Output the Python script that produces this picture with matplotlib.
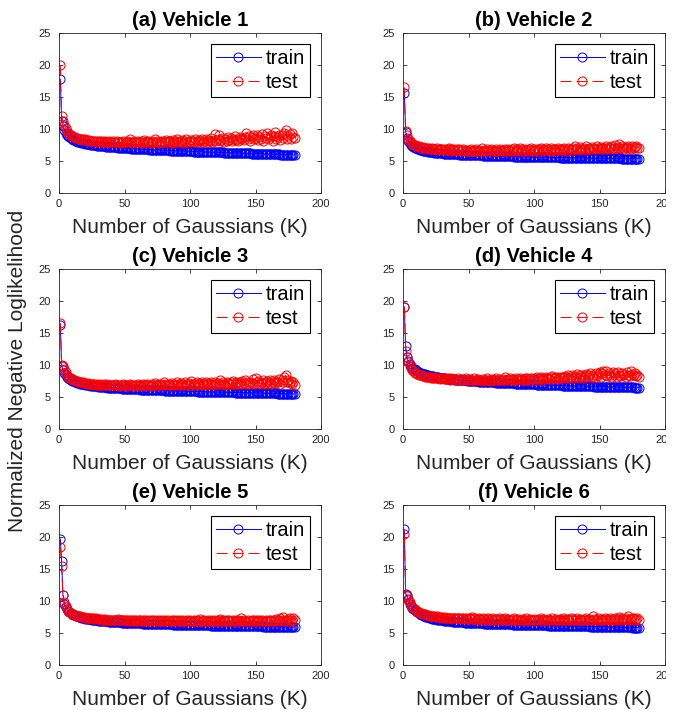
import matplotlib
matplotlib.use("Agg")
import matplotlib.pyplot as plt
from matplotlib.transforms import Bbox, TransformedBbox
import numpy as np

plt.rcParams['font.family'] = ['Liberation Sans', 'DejaVu Sans']
plt.rcParams['lines.scale_dashes'] = False

K = np.arange(1, 181)

titles = ["(a) Vehicle 1", "(b) Vehicle 2", "(c) Vehicle 3",
          "(d) Vehicle 4", "(e) Vehicle 5", "(f) Vehicle 6"]
series_labels = ["train", "test"]
x_ticks = [0, 50, 100, 150, 200]
y_ticks = [0, 5, 10, 15, 20, 25]
x_label = "Number of Gaussians (K)"
y_label = "Normalized Negative Loglikelihood"

train_v1 = [
    17.8, 11.2, 10.4, 9.8, 9.4, 9.1, 8.9, 8.7, 8.55, 8.42,
    8.31, 8.21, 8.12, 8.04, 7.97, 7.91, 7.85, 7.80, 7.75, 7.71,
    7.67, 7.63, 7.59, 7.56, 7.53, 7.50, 7.47, 7.44, 7.42, 7.39,
    7.37, 7.35, 7.32, 7.30, 7.28, 7.26, 7.24, 7.22, 7.20, 7.18,
    7.16, 7.15, 7.13, 7.11, 7.10, 7.08, 7.06, 7.05, 7.03, 7.02,
    7.00, 6.99, 6.98, 6.96, 6.95, 6.94, 6.92, 6.91, 6.90, 6.89,
    6.88, 6.87, 6.85, 6.84, 6.83, 6.82, 6.81, 6.80, 6.79, 6.78,
    6.77, 6.76, 6.75, 6.74, 6.73, 6.72, 6.71, 6.70, 6.69, 6.68,
    6.67, 6.66, 6.66, 6.65, 6.64, 6.63, 6.62, 6.61, 6.61, 6.60,
    6.59, 6.58, 6.57, 6.57, 6.56, 6.55, 6.54, 6.54, 6.53, 6.52,
    6.50, 6.49, 6.48, 6.48, 6.47, 6.46, 6.45, 6.45, 6.44, 6.43,
    6.43, 6.42, 6.41, 6.40, 6.40, 6.39, 6.38, 6.38, 6.37, 6.36,
    6.35, 6.35, 6.34, 6.33, 6.33, 6.32, 6.31, 6.30, 6.30, 6.29,
    6.28, 6.28, 6.27, 6.26, 6.25, 6.25, 6.24, 6.23, 6.23, 6.22,
    6.21, 6.20, 6.20, 6.19, 6.18, 6.18, 6.17, 6.16, 6.15, 6.15,
    6.14, 6.13, 6.13, 6.12, 6.11, 6.10, 6.10, 6.09, 6.08, 6.08,
    6.07, 6.06, 6.05, 6.05, 6.04, 6.03, 6.03, 6.02, 6.01, 6.00,
    6.00, 5.99, 5.99, 5.98, 5.98, 5.97, 5.97, 5.96, 5.96, 5.95,
]
test_v1 = [
    20.0, 12.0, 11.2, 10.6, 10.1, 9.7, 9.4, 9.2, 9.0, 8.9,
    8.8, 8.7, 8.6, 8.6, 8.5, 8.5, 8.4, 8.4, 8.3, 8.4,
    8.3, 8.2, 8.3, 8.2, 8.1, 8.2, 8.1, 8.2, 8.0, 8.1,
    8.1, 8.0, 8.2, 8.0, 8.1, 7.9, 8.0, 8.1, 7.9, 8.0,
    8.2, 7.9, 8.0, 8.1, 7.9, 8.0, 7.8, 8.0, 8.1, 7.9,
    8.0, 8.1, 7.9, 8.5, 8.0, 7.8, 8.1, 7.9, 8.0, 8.2,
    7.9, 8.0, 8.1, 7.8, 8.3, 8.0, 7.9, 8.1, 8.0, 7.8,
    8.2, 8.0, 8.4, 7.9, 8.1, 7.8, 8.0, 8.2, 7.9, 8.1,
    8.0, 8.3, 7.9, 8.1, 8.2, 7.8, 8.3, 8.0, 8.1, 8.4,
    7.9, 8.2, 8.0, 8.3, 7.8, 8.1, 8.4, 8.0, 8.2, 7.9,
    8.3, 8.1, 8.0, 8.4, 8.2, 7.9, 8.3, 8.1, 8.5, 8.0,
    8.2, 8.4, 7.9, 8.3, 8.1, 8.6, 8.0, 8.3, 9.2, 8.2,
    8.4, 9.0, 8.1, 8.3, 8.6, 8.0, 8.5, 8.2, 8.8, 8.3,
    8.6, 8.1, 8.4, 8.9, 8.3, 8.5, 8.2, 8.7, 8.4, 8.6,
    8.3, 8.8, 9.4, 8.5, 8.9, 8.2, 8.7, 9.1, 8.4, 8.6,
    9.0, 8.3, 8.8, 8.5, 9.2, 8.1, 8.9, 8.6, 9.3, 8.4,
    8.7, 9.0, 8.2, 8.9, 9.5, 8.5, 8.8, 9.1, 8.3, 9.0,
    8.6, 9.4, 9.9, 8.5, 8.9, 9.2, 8.4, 9.3, 8.8, 8.6,
]

train_v2 = [
    15.7, 9.6, 8.6, 8.1, 7.8, 7.55, 7.35, 7.2, 7.08, 6.98,
    6.89, 6.81, 6.74, 6.68, 6.63, 6.58, 6.54, 6.50, 6.46, 6.43,
    6.40, 6.37, 6.34, 6.32, 6.29, 6.27, 6.25, 6.23, 6.21, 6.19,
    6.17, 6.16, 6.14, 6.13, 6.11, 6.10, 6.08, 6.07, 6.06, 6.05,
    6.03, 6.02, 6.01, 6.00, 5.99, 5.98, 5.97, 5.96, 5.95, 5.94,
    5.93, 5.92, 5.91, 5.91, 5.90, 5.89, 5.88, 5.87, 5.87, 5.86,
    5.85, 5.84, 5.84, 5.83, 5.82, 5.82, 5.81, 5.80, 5.80, 5.79,
    5.78, 5.78, 5.77, 5.77, 5.76, 5.75, 5.75, 5.74, 5.74, 5.73,
    5.73, 5.72, 5.71, 5.71, 5.70, 5.70, 5.69, 5.69, 5.68, 5.68,
    5.67, 5.67, 5.66, 5.66, 5.65, 5.65, 5.64, 5.64, 5.63, 5.63,
    5.62, 5.62, 5.61, 5.61, 5.61, 5.60, 5.60, 5.59, 5.59, 5.58,
    5.58, 5.58, 5.57, 5.57, 5.56, 5.56, 5.56, 5.55, 5.55, 5.54,
    5.54, 5.54, 5.53, 5.53, 5.53, 5.52, 5.52, 5.52, 5.51, 5.51,
    5.51, 5.50, 5.50, 5.50, 5.49, 5.49, 5.49, 5.48, 5.48, 5.48,
    5.47, 5.47, 5.47, 5.46, 5.46, 5.46, 5.45, 5.45, 5.45, 5.44,
    5.44, 5.44, 5.43, 5.43, 5.43, 5.43, 5.42, 5.42, 5.42, 5.41,
    5.41, 5.41, 5.40, 5.40, 5.40, 5.40, 5.39, 5.39, 5.39, 5.38,
    5.38, 5.38, 5.38, 5.37, 5.37, 5.37, 5.36, 5.36, 5.36, 5.36,
]
test_v2 = [
    16.5, 9.7, 9.0, 8.5, 8.1, 7.9, 7.7, 7.6, 7.5, 7.4,
    7.3, 7.3, 7.2, 7.1, 7.2, 7.0, 7.1, 7.0, 6.9, 7.0,
    6.9, 7.1, 6.8, 6.9, 6.8, 7.0, 6.7, 6.9, 6.8, 6.8,
    6.7, 6.9, 6.7, 6.8, 7.0, 6.6, 6.8, 6.7, 6.9, 6.6,
    6.8, 6.7, 6.9, 6.6, 6.7, 6.8, 6.6, 6.7, 6.5, 6.7,
    6.6, 6.8, 6.5, 6.7, 6.6, 6.9, 6.5, 6.7, 6.6, 7.0,
    6.6, 6.7, 6.5, 6.9, 6.6, 6.7, 6.8, 6.5, 6.7, 6.6,
    6.8, 6.5, 6.7, 6.9, 6.6, 6.7, 6.5, 6.8, 6.6, 6.9,
    6.7, 6.6, 6.8, 6.5, 7.0, 6.6, 6.8, 6.7, 7.1, 6.6,
    6.8, 6.6, 6.9, 6.7, 6.5, 6.8, 6.7, 7.0, 6.6, 6.8,
    6.7, 6.9, 6.6, 6.8, 7.0, 6.6, 6.9, 6.7, 7.1, 6.7,
    6.8, 6.6, 7.0, 6.7, 6.9, 6.8, 6.6, 7.0, 6.8, 6.7,
    6.9, 6.7, 7.1, 6.8, 6.6, 7.0, 6.8, 6.9, 6.7, 7.0,
    7.4, 6.8, 7.0, 6.7, 7.2, 6.9, 6.8, 7.1, 6.7, 7.3,
    6.9, 7.0, 6.8, 7.2, 6.9, 7.1, 6.8, 7.3, 7.0, 6.9,
    7.2, 6.9, 7.1, 7.0, 7.4, 6.9, 7.2, 7.0, 7.3, 6.9,
    7.1, 7.5, 7.0, 7.2, 7.7, 7.0, 7.3, 7.1, 6.9, 7.2,
    7.0, 7.3, 7.1, 6.9, 7.4, 7.0, 7.2, 7.3, 7.0, 7.1,
]

train_v3 = [
    16.3, 9.9, 9.2, 8.7, 8.4, 8.15, 7.95, 7.8, 7.67, 7.56,
    7.46, 7.37, 7.29, 7.22, 7.16, 7.10, 7.05, 7.00, 6.96, 6.92,
    6.88, 6.85, 6.81, 6.78, 6.75, 6.72, 6.70, 6.67, 6.65, 6.62,
    6.60, 6.58, 6.56, 6.54, 6.52, 6.50, 6.48, 6.47, 6.45, 6.43,
    6.42, 6.40, 6.39, 6.37, 6.36, 6.35, 6.33, 6.32, 6.31, 6.30,
    6.28, 6.27, 6.26, 6.25, 6.24, 6.23, 6.22, 6.21, 6.20, 6.19,
    6.18, 6.17, 6.16, 6.15, 6.14, 6.13, 6.12, 6.11, 6.10, 6.10,
    6.09, 6.08, 6.07, 6.06, 6.06, 6.05, 6.04, 6.03, 6.03, 6.02,
    6.01, 6.00, 6.00, 5.99, 5.98, 5.98, 5.97, 5.96, 5.96, 5.95,
    5.94, 5.94, 5.93, 5.92, 5.92, 5.91, 5.91, 5.90, 5.89, 5.89,
    5.88, 5.88, 5.87, 5.86, 5.86, 5.85, 5.85, 5.84, 5.84, 5.83,
    5.82, 5.82, 5.81, 5.81, 5.80, 5.80, 5.79, 5.79, 5.78, 5.78,
    5.77, 5.77, 5.76, 5.76, 5.75, 5.75, 5.74, 5.74, 5.73, 5.73,
    5.72, 5.72, 5.71, 5.71, 5.70, 5.70, 5.69, 5.69, 5.68, 5.68,
    5.67, 5.67, 5.66, 5.66, 5.65, 5.65, 5.64, 5.64, 5.63, 5.63,
    5.62, 5.62, 5.61, 5.61, 5.60, 5.60, 5.59, 5.59, 5.58, 5.58,
    5.57, 5.57, 5.56, 5.56, 5.55, 5.55, 5.54, 5.54, 5.53, 5.53,
    5.52, 5.52, 5.51, 5.51, 5.50, 5.50, 5.49, 5.49, 5.48, 5.48,
]
test_v3 = [
    16.6, 10.0, 9.8, 9.3, 8.9, 8.5, 8.2, 8.0, 7.9, 7.8,
    7.7, 7.6, 7.5, 7.5, 7.4, 7.3, 7.4, 7.3, 7.2, 7.2,
    7.1, 7.2, 7.1, 7.0, 7.1, 7.0, 7.0, 6.9, 7.1, 6.9,
    7.0, 6.9, 6.9, 7.0, 6.8, 6.9, 7.0, 6.8, 6.9, 6.8,
    6.9, 6.8, 7.0, 6.8, 6.9, 6.7, 6.9, 6.8, 7.0, 6.8,
    6.9, 6.7, 6.8, 7.0, 6.8, 6.9, 6.7, 6.9, 6.8, 7.1,
    6.8, 6.9, 6.7, 7.0, 6.8, 6.9, 7.1, 6.8, 6.9, 6.7,
    7.0, 6.8, 7.2, 6.9, 6.8, 7.0, 6.9, 7.1, 6.8, 7.3,
    6.9, 7.0, 6.8, 7.1, 6.9, 7.2, 6.8, 7.0, 6.9, 7.3,
    7.0, 6.8, 7.2, 6.9, 7.1, 7.4, 6.9, 7.0, 7.2, 6.9,
    7.5, 7.0, 7.1, 6.9, 7.3, 7.0, 7.2, 6.9, 7.4, 7.0,
    7.1, 7.3, 6.9, 7.2, 7.0, 7.4, 7.1, 6.9, 7.3, 7.0,
    7.2, 7.1, 7.6, 7.0, 7.3, 7.1, 6.9, 7.4, 7.2, 7.0,
    7.3, 7.1, 7.5, 7.0, 7.2, 7.4, 7.1, 7.3, 7.0, 7.5,
    7.2, 7.6, 7.1, 7.3, 7.0, 7.4, 7.2, 7.8, 7.1, 7.9,
    7.3, 7.5, 7.1, 7.4, 7.2, 7.6, 7.0, 7.3, 7.5, 7.2,
    7.7, 7.1, 7.4, 7.6, 7.2, 7.5, 7.3, 7.8, 7.1, 7.6,
    7.4, 8.1, 8.4, 7.3, 7.6, 7.2, 7.5, 7.0, 7.3, 6.9,
]

train_v4 = [
    19.1, 12.9, 11.2, 10.6, 10.2, 9.9, 9.6, 9.45, 9.3, 9.15,
    9.02, 8.92, 8.82, 8.74, 8.66, 8.59, 8.52, 8.46, 8.40, 8.35,
    8.30, 8.26, 8.21, 8.17, 8.13, 8.10, 8.06, 8.03, 8.00, 7.97,
    7.94, 7.91, 7.89, 7.86, 7.84, 7.81, 7.79, 7.77, 7.75, 7.73,
    7.71, 7.69, 7.67, 7.65, 7.63, 7.61, 7.59, 7.58, 7.56, 7.54,
    7.53, 7.51, 7.50, 7.48, 7.47, 7.45, 7.44, 7.42, 7.41, 7.40,
    7.38, 7.37, 7.36, 7.34, 7.33, 7.32, 7.31, 7.29, 7.28, 7.27,
    7.26, 7.25, 7.24, 7.22, 7.21, 7.20, 7.19, 7.18, 7.17, 7.16,
    7.15, 7.14, 7.13, 7.12, 7.11, 7.10, 7.09, 7.08, 7.07, 7.06,
    7.05, 7.04, 7.03, 7.02, 7.01, 7.00, 6.99, 6.98, 6.97, 6.96,
    6.96, 6.95, 6.94, 6.93, 6.92, 6.91, 6.91, 6.90, 6.89, 6.88,
    6.87, 6.87, 6.86, 6.85, 6.84, 6.84, 6.83, 6.82, 6.81, 6.81,
    6.80, 6.79, 6.79, 6.78, 6.77, 6.77, 6.76, 6.75, 6.75, 6.74,
    6.73, 6.73, 6.72, 6.71, 6.71, 6.70, 6.70, 6.69, 6.68, 6.68,
    6.67, 6.67, 6.66, 6.65, 6.65, 6.64, 6.64, 6.63, 6.63, 6.62,
    6.61, 6.61, 6.60, 6.60, 6.59, 6.59, 6.58, 6.58, 6.57, 6.57,
    6.56, 6.56, 6.55, 6.55, 6.54, 6.54, 6.53, 6.53, 6.52, 6.52,
    6.51, 6.51, 6.50, 6.50, 6.49, 6.49, 6.48, 6.48, 6.47, 6.47,
]
test_v4 = [
    19.0, 12.2, 11.2, 10.4, 9.9, 9.5, 9.2, 9.0, 8.8, 8.7,
    8.6, 8.5, 8.4, 8.4, 8.3, 8.3, 8.2, 8.2, 8.1, 8.1,
    8.0, 8.1, 8.0, 7.9, 8.0, 7.9, 8.0, 7.8, 7.9, 7.9,
    7.8, 7.9, 7.8, 8.0, 7.8, 7.7, 7.9, 7.8, 7.7, 7.8,
    7.7, 7.9, 7.7, 7.8, 7.6, 7.8, 7.7, 7.9, 7.6, 7.7,
    7.8, 7.6, 7.7, 7.9, 7.6, 7.7, 7.8, 7.6, 7.7, 7.5,
    7.8, 7.6, 7.7, 7.9, 7.6, 7.7, 7.5, 7.8, 7.6, 7.7,
    7.9, 7.6, 7.8, 7.7, 7.6, 7.8, 7.7, 8.1, 7.6, 7.8,
    7.7, 7.9, 7.6, 7.8, 7.7, 8.0, 7.6, 7.8, 7.9, 7.7,
    7.8, 7.6, 8.0, 7.7, 7.9, 7.8, 7.6, 8.0, 7.8, 7.9,
    7.7, 8.1, 7.8, 7.9, 8.2, 7.7, 8.0, 7.8, 8.2, 7.9,
    8.0, 7.8, 8.1, 8.3, 7.9, 8.0, 8.2, 7.8, 8.1, 8.0,
    8.2, 7.9, 8.1, 8.3, 8.0, 8.4, 7.9, 8.2, 8.5, 8.0,
    8.3, 8.1, 8.6, 8.0, 8.4, 8.2, 8.5, 8.0, 8.3, 8.6,
    8.1, 8.4, 8.7, 8.2, 8.5, 8.0, 8.8, 8.3, 8.6, 8.9,
    8.2, 8.7, 9.0, 8.4, 9.1, 8.3, 8.8, 8.5, 8.2, 8.9,
    8.4, 8.7, 8.1, 8.9, 8.5, 8.3, 8.8, 8.4, 8.6, 8.2,
    8.9, 8.5, 8.3, 9.0, 8.6, 8.4, 8.8, 8.3, 8.5, 8.2,
]

train_v5 = [
    19.7, 16.2, 11.0, 9.6, 9.0, 8.7, 8.45, 8.25, 8.1, 7.97,
    7.86, 7.76, 7.67, 7.59, 7.52, 7.46, 7.40, 7.35, 7.30, 7.26,
    7.22, 7.18, 7.14, 7.11, 7.08, 7.05, 7.02, 6.99, 6.97, 6.94,
    6.92, 6.90, 6.88, 6.86, 6.84, 6.82, 6.80, 6.78, 6.77, 6.75,
    6.74, 6.72, 6.71, 6.69, 6.68, 6.67, 6.65, 6.64, 6.63, 6.62,
    6.61, 6.60, 6.58, 6.57, 6.56, 6.55, 6.54, 6.53, 6.52, 6.52,
    6.51, 6.50, 6.49, 6.48, 6.47, 6.46, 6.46, 6.45, 6.44, 6.43,
    6.43, 6.42, 6.41, 6.40, 6.40, 6.39, 6.38, 6.38, 6.37, 6.36,
    6.36, 6.35, 6.35, 6.34, 6.33, 6.33, 6.32, 6.32, 6.31, 6.31,
    6.30, 6.29, 6.29, 6.28, 6.28, 6.27, 6.27, 6.26, 6.26, 6.25,
    6.25, 6.24, 6.24, 6.23, 6.23, 6.22, 6.22, 6.21, 6.21, 6.20,
    6.20, 6.19, 6.19, 6.18, 6.18, 6.17, 6.17, 6.17, 6.16, 6.16,
    6.15, 6.15, 6.14, 6.14, 6.14, 6.13, 6.13, 6.12, 6.12, 6.11,
    6.11, 6.11, 6.10, 6.10, 6.09, 6.09, 6.09, 6.08, 6.08, 6.07,
    6.07, 6.07, 6.06, 6.06, 6.05, 6.05, 6.05, 6.04, 6.04, 6.03,
    6.03, 6.03, 6.02, 6.02, 6.02, 6.01, 6.01, 6.00, 6.00, 6.00,
    5.99, 5.99, 5.99, 5.98, 5.98, 5.97, 5.97, 5.97, 5.96, 5.96,
    5.96, 5.95, 5.95, 5.95, 5.94, 5.94, 5.94, 5.93, 5.93, 5.93,
]
test_v5 = [
    18.4, 15.4, 10.9, 9.8, 9.2, 8.8, 8.5, 8.3, 8.1, 7.9,
    7.9, 7.8, 7.7, 7.7, 7.6, 7.6, 7.5, 7.5, 7.5, 7.4,
    7.4, 7.4, 7.3, 7.4, 7.3, 7.3, 7.2, 7.3, 7.2, 7.2,
    7.2, 7.1, 7.2, 7.1, 7.2, 7.1, 7.1, 7.0, 7.1, 7.1,
    7.0, 7.1, 7.0, 7.1, 7.2, 7.0, 7.1, 7.0, 7.0, 7.1,
    7.0, 6.9, 7.1, 7.0, 6.9, 7.0, 7.1, 6.9, 7.0, 6.9,
    7.0, 7.1, 6.9, 7.0, 6.9, 7.0, 6.9, 7.1, 6.9, 7.0,
    6.9, 7.0, 6.8, 7.0, 6.9, 7.1, 6.9, 6.8, 7.0, 6.9,
    7.0, 6.9, 7.1, 6.8, 6.9, 7.0, 6.9, 7.0, 6.8, 7.0,
    6.9, 7.0, 6.8, 6.9, 7.1, 6.9, 6.8, 7.0, 6.9, 7.0,
    6.9, 6.8, 7.0, 6.9, 7.1, 6.8, 6.9, 7.2, 6.9, 6.8,
    7.0, 6.9, 6.8, 7.0, 6.9, 7.1, 6.8, 6.9, 7.0, 6.8,
    6.9, 7.0, 7.2, 6.9, 6.8, 7.0, 6.9, 7.1, 6.8, 7.0,
    6.9, 6.8, 7.0, 6.9, 7.1, 6.8, 7.0, 6.9, 7.4, 6.9,
    7.0, 6.8, 6.9, 7.1, 6.9, 6.8, 7.0, 6.9, 7.1, 6.8,
    7.0, 6.9, 7.1, 6.8, 7.0, 6.9, 6.8, 7.1, 6.9, 7.0,
    6.8, 7.0, 6.9, 7.1, 6.9, 7.2, 6.8, 7.0, 7.3, 7.1,
    7.5, 6.9, 7.0, 6.8, 7.2, 7.4, 6.9, 7.1, 7.3, 7.0,
]

train_v6 = [
    21.2, 11.1, 10.9, 10.3, 9.6, 9.2, 8.95, 8.75, 8.55, 8.38,
    8.22, 8.08, 7.95, 7.84, 7.74, 7.65, 7.57, 7.50, 7.43, 7.37,
    7.31, 7.26, 7.21, 7.17, 7.13, 7.09, 7.05, 7.02, 6.99, 6.96,
    6.93, 6.91, 6.88, 6.86, 6.84, 6.82, 6.80, 6.78, 6.76, 6.74,
    6.73, 6.71, 6.70, 6.68, 6.67, 6.65, 6.64, 6.63, 6.62, 6.60,
    6.59, 6.58, 6.57, 6.56, 6.55, 6.54, 6.53, 6.52, 6.51, 6.50,
    6.49, 6.48, 6.47, 6.47, 6.46, 6.45, 6.44, 6.43, 6.43, 6.42,
    6.41, 6.40, 6.40, 6.39, 6.38, 6.38, 6.37, 6.36, 6.36, 6.35,
    6.34, 6.34, 6.33, 6.32, 6.32, 6.31, 6.31, 6.30, 6.29, 6.29,
    6.28, 6.28, 6.27, 6.26, 6.26, 6.25, 6.25, 6.24, 6.24, 6.23,
    6.23, 6.22, 6.21, 6.21, 6.20, 6.20, 6.19, 6.19, 6.18, 6.18,
    6.17, 6.17, 6.16, 6.16, 6.15, 6.15, 6.14, 6.14, 6.13, 6.13,
    6.12, 6.12, 6.11, 6.11, 6.10, 6.10, 6.09, 6.09, 6.08, 6.08,
    6.07, 6.07, 6.06, 6.06, 6.05, 6.05, 6.04, 6.04, 6.03, 6.03,
    6.02, 6.02, 6.01, 6.01, 6.00, 6.00, 5.99, 5.99, 5.98, 5.98,
    5.97, 5.97, 5.96, 5.96, 5.95, 5.95, 5.94, 5.94, 5.93, 5.93,
    5.92, 5.92, 5.91, 5.91, 5.90, 5.90, 5.89, 5.89, 5.88, 5.88,
    5.87, 5.87, 5.86, 5.86, 5.85, 5.85, 5.84, 5.84, 5.83, 5.83,
]
test_v6 = [
    20.5, 11.0, 10.8, 10.2, 9.8, 9.4, 9.1, 8.9, 8.7, 8.5,
    8.4, 8.3, 8.2, 8.1, 8.0, 7.9, 7.9, 7.8, 7.8, 7.7,
    7.7, 7.6, 7.7, 7.6, 7.5, 7.6, 7.5, 7.5, 7.4, 7.5,
    7.4, 7.5, 7.4, 7.4, 7.3, 7.4, 7.4, 7.3, 7.4, 7.3,
    7.3, 7.4, 7.3, 7.2, 7.3, 7.4, 7.2, 7.3, 7.2, 7.3,
    7.2, 7.3, 7.5, 7.2, 7.3, 7.1, 7.2, 7.3, 7.2, 7.1,
    7.3, 7.2, 7.1, 7.2, 7.4, 7.1, 7.2, 7.4, 7.1, 7.2,
    7.1, 7.2, 7.3, 7.1, 7.2, 7.0, 7.2, 7.3, 7.1, 7.2,
    7.1, 7.0, 7.2, 7.1, 7.3, 7.0, 7.1, 7.2, 7.0, 7.1,
    7.2, 7.0, 7.1, 7.3, 7.0, 7.1, 7.2, 7.0, 7.1, 7.2,
    7.0, 7.1, 7.2, 7.0, 7.3, 7.1, 7.0, 7.2, 7.1, 7.0,
    7.2, 7.1, 7.0, 7.3, 7.1, 7.0, 7.2, 7.1, 7.0, 7.2,
    7.1, 7.3, 7.0, 7.1, 7.2, 7.0, 7.1, 7.3, 7.0, 7.2,
    7.1, 7.0, 7.3, 7.1, 7.2, 7.0, 7.1, 7.2, 7.0, 7.3,
    7.1, 7.2, 7.0, 7.1, 7.6, 7.2, 7.0, 7.1, 7.3, 7.0,
    7.2, 7.1, 7.0, 7.3, 7.1, 7.2, 7.0, 7.4, 7.1, 7.2,
    7.0, 7.3, 7.1, 7.2, 7.5, 7.0, 7.3, 7.1, 7.2, 7.4,
    7.1, 7.7, 7.2, 7.0, 7.3, 7.4, 7.1, 7.2, 7.3, 7.0,
]

train_sets = [train_v1, train_v2, train_v3, train_v4, train_v5, train_v6]
test_sets = [test_v1, test_v2, test_v3, test_v4, test_v5, test_v6]

W, H = 683, 710
fig = plt.figure(figsize=(W / 100, H / 100), dpi=100)

# panel frames in pixels: left, top, width, height
col_left = [59, 403]
row_top = [33, 269, 505]
ax_w, ax_h = 262, 160

axis_gray = "#262626"

for i in range(6):
    r, c = divmod(i, 2)
    left = col_left[c] / W
    bottom = (H - row_top[r] - ax_h) / H
    ax = fig.add_axes([left, bottom, ax_w / W, ax_h / H])

    ax.plot(K, train_sets[i], color="blue", linestyle="-", linewidth=0.7,
            marker="o", markersize=6.5, markerfacecolor="none",
            markeredgewidth=0.7, label=series_labels[0])
    ax.plot(K, test_sets[i], color="red", linestyle=(0, (8, 3.5)),
            linewidth=0.7, marker="o", markersize=6.5,
            markerfacecolor="none", markeredgewidth=0.7,
            label=series_labels[1])

    ax.set_xlim(0, 200)
    ax.set_ylim(0, 25)
    ax.set_xticks(x_ticks)
    ax.set_yticks(y_ticks)
    ax.tick_params(direction="in", top=True, right=True, length=3,
                   width=0.6, color=axis_gray, labelcolor=axis_gray,
                   labelsize=8)
    ax.tick_params(axis="y", pad=6)
    ax.tick_params(axis="x", pad=4)
    for s in ax.spines.values():
        s.set_color(axis_gray)
        s.set_linewidth(0.6)

    ax.set_title(titles[i], fontsize=14.5, fontweight="bold", pad=5)
    ax.set_xlabel(x_label, fontsize=15, color=axis_gray, labelpad=7)

    leg = ax.legend(loc="upper right", fontsize=14.5, frameon=True,
                    fancybox=False, framealpha=1, edgecolor="black",
                    handlelength=2.2, handletextpad=0.25,
                    borderpad=0.25, labelspacing=0.25,
                    borderaxespad=0.55)
    leg.get_frame().set_linewidth(0.8)

    if c == 1:
        # labels in the right column stop at the frame's right edge
        clip = TransformedBbox(
            Bbox([[0, 0], [(col_left[c] + ax_w + 1) / W, 1]]),
            fig.transFigure)
        for lab in ax.get_xticklabels():
            lab.set_clip_box(clip)
            lab.set_clip_on(True)

fig.text(18 / W, 1 - 371 / H, y_label, rotation=90, fontsize=15,
         color=axis_gray, ha="center", va="center")

fig.savefig("out.png", dpi=100)
